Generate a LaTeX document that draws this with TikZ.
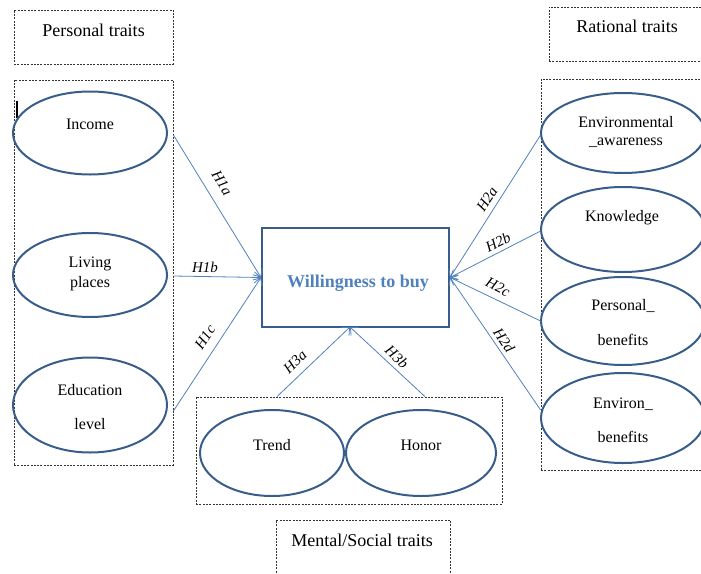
\documentclass[tikz,border=0pt]{standalone}
\usepackage{fontspec}
\setmainfont{Liberation Serif}
\usetikzlibrary{shapes.geometric,arrows.meta}
\definecolor{lineblue}{HTML}{4F81BD}
\definecolor{darkblue}{HTML}{385D8A}
\begin{document}
\begin{tikzpicture}[x=1pt,y=-1pt,
 dbox/.style={draw=black!80, dash pattern=on 2pt off 1.3pt, line width=0.8pt, rectangle, inner sep=0},
 oval/.style={ellipse, draw=darkblue, line width=2pt, inner sep=0},
 lbl/.style={font=\fontsize{16}{18}\selectfont, inner sep=0},
 ttl/.style={font=\fontsize{18}{20}\selectfont, inner sep=0},
 hyp/.style={font=\itshape\fontsize{15}{17}\selectfont, inner sep=0},
 conn/.style={draw=lineblue, line width=0.8pt, -{Straight Barb[length=6pt,width=11pt]}},
]
\useasboundingbox (0,0) rectangle (701,573);

% title boxes
\node[dbox, minimum width=159pt, minimum height=54pt] (ptitlebox) at (93.5,37) {};
\node[ttl] (ptitle) at (93.5,30) {Personal traits};
\node[dbox, minimum width=163pt, minimum height=54pt] (rtitlebox) at (630.5,34) {};
\node[ttl] (rtitle) at (627,26) {Rational traits};
\node[dbox, minimum width=174pt, minimum height=70pt] (mtitlebox) at (363,555) {};
\node[ttl] (mtitle) at (362,540) {Mental/Social traits};

% group boxes
\node[dbox, minimum width=159pt, minimum height=385pt] (pbox) at (93.5,272.5) {};
\node[dbox, minimum width=171pt, minimum height=391pt] (rbox) at (626.5,274.5) {};
\node[dbox, minimum width=306pt, minimum height=107pt] (mbox) at (349,450.5) {};

% small mark
\draw[line width=1.2pt] (17,101) coordinate (markA) -- (17,118) coordinate (markB);

% personal ellipses
\node[oval, minimum width=154pt, minimum height=83pt] (inc) at (90,133) {};
\node[lbl] (incT) at (90,124) {Income};
\node[oval, minimum width=154pt, minimum height=84pt] (liv) at (90,275) {};
\node[lbl] (livT1) at (90,264) {Living};
\node[lbl] (livT2) at (90,284) {places};
\node[oval, minimum width=154pt, minimum height=95pt] (edu) at (90,405) {};
\node[lbl] (eduT1) at (90,390) {Education};
\node[lbl] (eduT2) at (90,424) {level};

% rational ellipses
\node[oval, minimum width=164pt, minimum height=80pt] (env) at (623,133) {};
\node[lbl] (envT1) at (626,122) {Environmental};
\node[lbl] (envT2) at (626,143) {\_awareness};
\node[oval, minimum width=164pt, minimum height=85pt] (kno) at (623,229.5) {};
\node[lbl] (knoT) at (622,218) {Knowledge};
\node[oval, minimum width=164pt, minimum height=88pt] (pben) at (623,321) {};
\node[lbl] (pbenT1) at (623,306) {Personal\_};
\node[lbl] (pbenT2) at (623,340) {benefits};
\node[oval, minimum width=164pt, minimum height=90pt] (eben) at (623,418) {};
\node[lbl] (ebenT1) at (623,404) {Environ\_};
\node[lbl] (ebenT2) at (623,437) {benefits};

% mental ellipses
\node[oval, minimum width=144pt, minimum height=86pt] (trd) at (272,453) {};
\node[lbl] (trdT) at (272,445) {Trend};
\node[oval, minimum width=150pt, minimum height=86pt] (hon) at (421,453) {};
\node[lbl] (honT) at (421,445) {Honor};

% central box
\node[draw=darkblue, line width=2pt, minimum width=187pt, minimum height=99pt, inner sep=0] (wtb) at (355.5,277.5) {};
\node[font=\bfseries\fontsize{18}{20}\selectfont, text=lineblue, inner sep=0] (wtbT) at (358,283) {Willingness to buy};

% connectors
\coordinate (tl) at (wtb.west);
\coordinate (tr) at (wtb.east);
\coordinate (tb) at (350,327);
\draw[conn] (pbox.east |- 0,135) -- (tl);
\draw[conn] (pbox.east |- 0,276) -- (tl);
\draw[conn] (pbox.east |- 0,411) -- (tl);
\draw[conn] (rbox.west |- 0,135) -- (tr);
\draw[conn] (rbox.west |- 0,231) -- (tr);
\draw[conn] (rbox.west |- 0,321) -- (tr);
\draw[conn] (rbox.west |- 0,410) -- (tr);
\draw[conn] (mbox.north -| 277,0) -- (tb);
\draw[conn] (mbox.north -| 425,0) -- (tb);

% hypothesis labels
\node[hyp, rotate=-58] (h1a) at (222,183) {H1a};
\node[hyp] (h1b) at (205,267) {H1b};
\node[hyp, rotate=56] (h1c) at (205,337) {H1c};
\node[hyp, rotate=57] (h2a) at (487,199) {H2a};
\node[hyp, rotate=26] (h2b) at (498,242) {H2b};
\node[hyp, rotate=-27] (h2c) at (498,287) {H2c};
\node[hyp, rotate=-56] (h2d) at (504,340) {H2d};
\node[hyp, rotate=44] (h3a) at (295,362) {H3a};
\node[hyp, rotate=-43] (h3b) at (397,357) {H3b};
\end{tikzpicture}
\end{document}
